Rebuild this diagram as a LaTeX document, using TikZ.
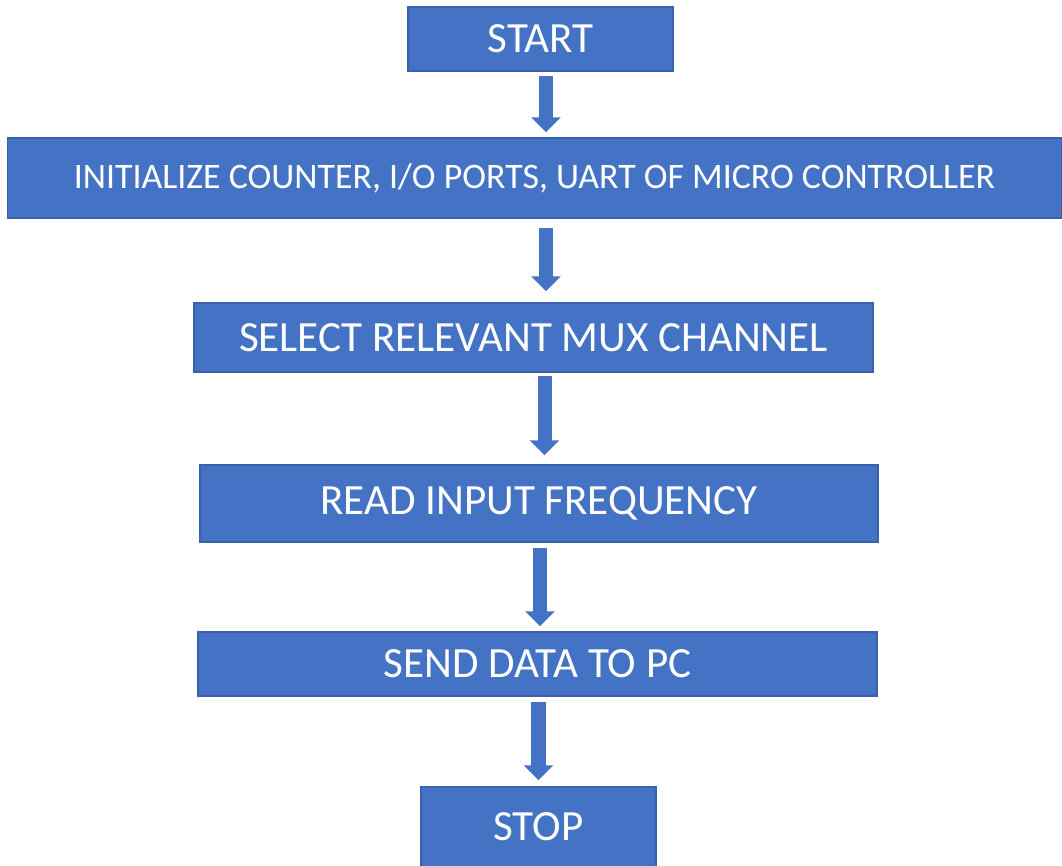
\documentclass[tikz,border=0pt]{standalone}
\usepackage{fontspec}
\setmainfont{Carlito}
\usetikzlibrary{arrows.meta}

\definecolor{boxblue}{HTML}{4472C4}
\definecolor{edgeblue}{HTML}{3A62A8}

\tikzset{
  stepbox/.style={rectangle, fill=boxblue, draw=edgeblue, line width=0.4pt, text=white, inner sep=0pt, font=\fontsize{12.25}{14}\selectfont},
  flow/.style={draw=boxblue, line width=0.14cm, -{Triangle[width=0.29cm, length=0.15cm]}}
}

\begin{document}
\begin{tikzpicture}[x=0.01cm, y=-0.01cm]

\useasboundingbox (0, 0) rectangle (1062, 866);

\node[stepbox, minimum width=2.65cm, minimum height=0.64cm] (start) at (540.5, 39) {START};
\node[stepbox, minimum width=10.53cm, minimum height=0.80cm, font=\fontsize{10.2}{12}\selectfont] (init) at (534.5, 178) {INITIALIZE COUNTER, I/O PORTS, UART OF MICRO CONTROLLER};
\node[stepbox, minimum width=6.79cm, minimum height=0.69cm] (select) at (533.5, 337.5) {SELECT RELEVANT MUX CHANNEL};
\node[stepbox, minimum width=6.78cm, minimum height=0.77cm] (read) at (539, 503.5) {READ INPUT FREQUENCY};
\node[stepbox, minimum width=6.79cm, minimum height=0.64cm] (send) at (537.5, 664) {SEND DATA TO PC};
\node[stepbox, minimum width=2.35cm, minimum height=0.80cm] (stop) at (538.5, 827) {STOP};

\draw[flow, shorten <=0.04cm, shorten >=0.05cm] ([xshift=0.055cm]start.south) -- ([xshift=0.055cm]start.south |- init.north);
\draw[flow, shorten <=0.09cm, shorten >=0.11cm] ([xshift=0.115cm]init.south) -- ([xshift=0.115cm]init.south |- select.north);
\draw[flow, shorten <=0.03cm, shorten >=0.09cm] ([xshift=0.11cm]select.south) -- ([xshift=0.11cm]select.south |- read.north);
\draw[flow, shorten <=0.05cm, shorten >=0.05cm] ([xshift=0.01cm]read.south) -- ([xshift=0.01cm]read.south |- send.north);
\draw[flow, shorten <=0.05cm, shorten >=0.06cm] ([xshift=0.01cm]send.south) -- ([xshift=0.01cm]send.south |- stop.north);

\end{tikzpicture}
\end{document}
